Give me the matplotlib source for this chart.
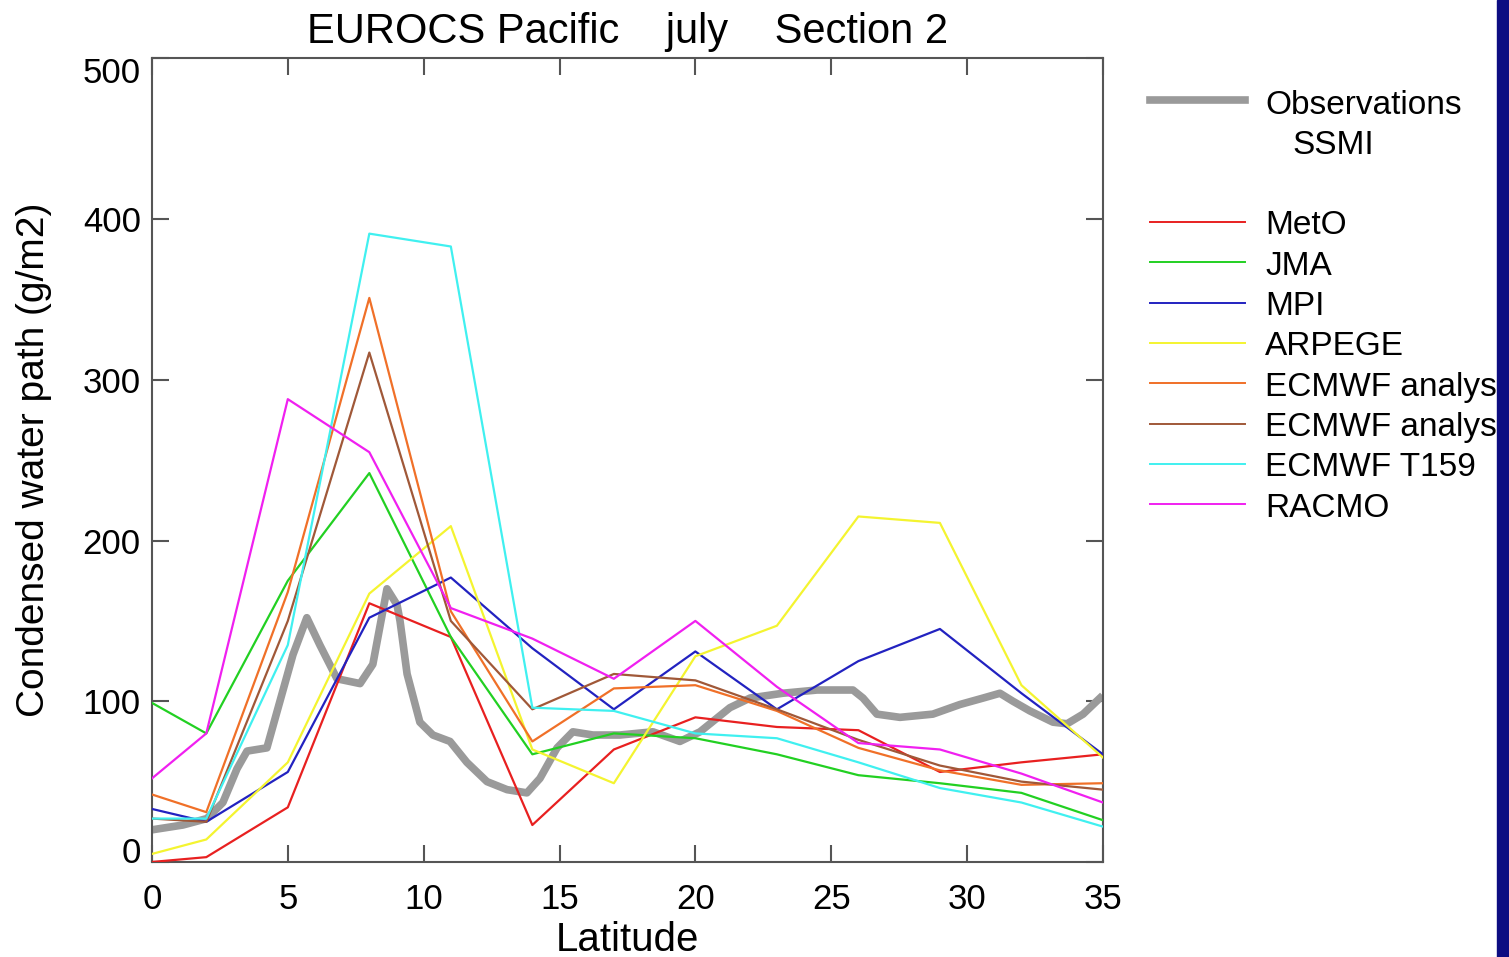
import numpy as np
import matplotlib
matplotlib.use("Agg")
import matplotlib.pyplot as plt
from matplotlib.lines import Line2D
from matplotlib.patches import Rectangle
from matplotlib.transforms import ScaledTranslation

plt.rcParams['font.family'] = ['Liberation Sans', 'DejaVu Sans']

# model grid (latitude)
lat = [0, 2, 5, 8, 11, 14, 17, 20, 23, 26, 29, 32, 35]

meto    = [0, 3, 34, 161, 140, 23, 70, 90, 84, 82, 56, 62, 67]
jma     = [99, 80, 175, 242, 140, 67, 80, 77, 67, 54, 49, 43, 26]
mpi     = [33, 25, 56, 152, 177, 133, 95, 131, 95, 125, 145, 105, 67]
arpege  = [5, 14, 62, 167, 209, 70, 49, 128, 147, 215, 211, 110, 65]
ecmwf_a = [42, 31, 168, 351, 156, 75, 108, 110, 94, 71, 57, 48, 49]
ecmwf_b = [27, 25, 150, 317, 150, 95, 117, 113, 95, 76, 60, 50, 45]
t159    = [27, 27, 135, 391, 383, 96, 94, 80, 77, 62, 46, 37, 22]
racmo   = [52, 80, 288, 255, 158, 139, 114, 150, 109, 74, 70, 55, 37]

# observations SSMI
obs_lat = [0.0, 1.14, 2.02, 2.61, 3.13, 3.5, 4.23, 4.71, 5.19, 5.7, 6.18, 6.81,
           7.66, 8.13, 8.65, 9.02, 9.13, 9.39, 9.86, 10.34, 10.97, 11.59, 12.33,
           13.07, 13.8, 14.28, 14.91, 15.49, 16.23, 17.22, 18.44, 19.43, 20.17,
           21.27, 22.01, 23.22, 24.48, 25.8, 26.17, 26.68, 27.53, 28.74, 29.74,
           30.59, 31.21, 31.69, 32.31, 33.16, 33.68, 34.27, 34.89]
obs_val = [20, 23, 27, 37, 58, 69, 71, 100, 129, 152, 135, 114,
           111, 123, 170, 160, 150, 117, 87, 79, 75, 62, 50,
           45, 43, 52, 71, 81, 79, 79, 81, 75, 81,
           96, 102, 105, 107, 107, 102, 92, 90, 92, 98,
           102, 105, 100, 94, 87, 86, 92, 102]

names = ['MetO', 'JMA', 'MPI', 'ARPEGE', 'ECMWF analysis', 'ECMWF analysis',
         'ECMWF T159', 'RACMO']
series = [meto, jma, mpi, arpege, ecmwf_a, ecmwf_b, t159, racmo]
colors = ['#e82020', '#22d022', '#2222c0', '#f4f430', '#f07028', '#a05838',
          '#40f0f0', '#f020f0']

fig = plt.figure(figsize=(15.09, 9.57), dpi=100)
ax = fig.add_axes([0.1007, 0.0993, 0.6302, 0.8396])

ax.plot(obs_lat, obs_val, color='#9a9a9a', lw=5.5, solid_joinstyle='round', zorder=2)
for s, c in zip(series, colors):
    ax.plot(lat, s, color=c, lw=1.6, zorder=3)

ax.set_xlim(0, 35)
ax.set_ylim(0, 500)
ax.set_xticks(range(0, 36, 5))
ax.set_yticks(range(0, 501, 100))
ax.tick_params(direction='in', length=12, width=1.5, color='#555555',
               labelsize=25, top=True, right=True)
ax.tick_params(axis='x', pad=15)
ax.tick_params(axis='y', pad=8)
for sp in ax.spines.values():
    sp.set_color('#555555')
    sp.set_linewidth(1.5)

# end labels of the y axis sit inside the box, as in the original
ylabs = ax.get_yticklabels()
ylabs[0].set_transform(ylabs[0].get_transform() + ScaledTranslation(0, 12 / 100, fig.dpi_scale_trans))
ylabs[-1].set_transform(ylabs[-1].get_transform() + ScaledTranslation(0, -12 / 100, fig.dpi_scale_trans))

ax.set_xlabel('Latitude', fontsize=29, labelpad=4)
ax.set_ylabel('Condensed water path (g/m2)', fontsize=28)
ax.yaxis.set_label_coords(-0.105, 0.5)
ax.set_title('EUROCS Pacific    july    Section 2', fontsize=30, pad=11)

# legend drawn by hand on the figure
W, H = 1509, 957
def fx(px): return px / W
def fy(py): return 1 - py / H

fig.add_artist(Line2D([fx(1150), fx(1245)], [fy(100), fy(100)], color='#9a9a9a', lw=5.5))
fig.text(fx(1265), fy(105), 'Observations', fontsize=24, va='center', ha='left')
fig.text(fx(1292), fy(145), 'SSMI', fontsize=24, va='center', ha='left')
for i, (n, c) in enumerate(zip(names, colors)):
    y = 222 + i * 40.3
    fig.add_artist(Line2D([fx(1150), fx(1245)], [fy(y), fy(y)], color=c, lw=1.4))
    fig.text(fx(1265), fy(y + 4), n, fontsize=24, va='center', ha='left')

# slide background strip on the right (covers the ends of the long labels, as in the original)
fig.add_artist(Rectangle((fx(1497), 0), fx(12) + 0.01, 1, transform=fig.transFigure,
                         color='#0c0c82', zorder=10))

plt.savefig('out.png')
